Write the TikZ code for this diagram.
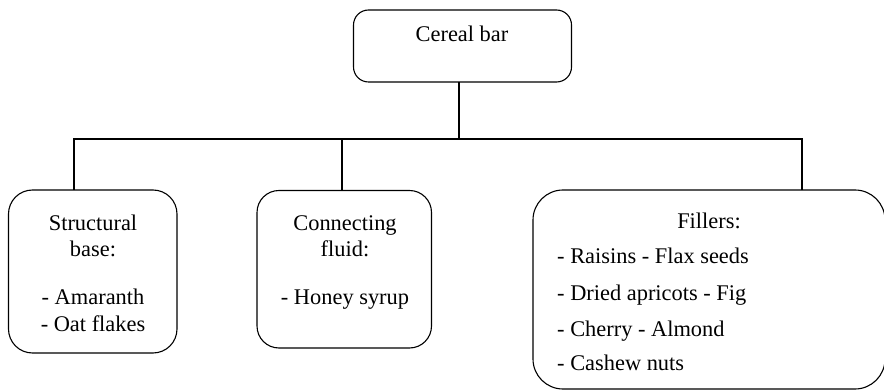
\documentclass[tikz,border=0pt]{standalone}
\usepackage{fontspec}
\setmainfont{Liberation Serif}
\begin{document}
\begin{tikzpicture}[x=1pt,y=-1pt,
  box/.style={draw, line width=1.1pt, rounded corners=#1, inner sep=0pt, outer sep=0pt},
  box/.default=20pt,
  lbl/.style={anchor=base, inner sep=0pt, font=\fontsize{22.4}{26}\selectfont},
  lbll/.style={lbl, anchor=base west},
  conn/.style={line width=1.1pt}]
\useasboundingbox (0,0) rectangle (884,390);
% boxes
\node[box=15pt, minimum width=218pt, minimum height=72pt] (top) at (462.5,46) {};
\node[box=24pt, minimum width=168.5pt, minimum height=163pt] (sb) at (92.75,271.5) {};
\node[box=22pt, minimum width=174.5pt, minimum height=157.5pt] (cf) at (344.25,269.25) {};
\node[box=30pt, minimum width=352pt, minimum height=199pt] (fil) at (709,289.5) {};
% connectors
\coordinate (bus) at (0,139);
\coordinate (dl) at (74,139);
\coordinate (dm) at (342,139);
\coordinate (dr) at (802,139);
\draw[conn] ([xshift=-3.5pt]top.south) -- ([xshift=-3.5pt]top.south |- bus);
\draw[conn] (dl |- sb.north) -- (dl) -- (dr) -- (dr |- fil.north);
\draw[conn] (dm) -- (dm |- cf.north);
% texts
\node[lbl] (t0) at (462,42) {Cereal bar};
\node[lbl] (t1) at (93,231) {Structural};
\node[lbl] (t2) at (93,257) {base:};
\node[lbl] (t3) at (93,305) {- Amaranth};
\node[lbl] (t4) at (93,331) {- Oat flakes};
\node[lbl] (t5) at (345,231) {Connecting};
\node[lbl] (t6) at (345,257) {fluid:};
\node[lbl] (t7) at (345,305) {- Honey syrup};
\node[lbl] (t8) at (709,229) {Fillers:};
\node[lbll] (t9) at (557,264) {- Raisins - Flax seeds};
\node[lbll] (t10) at (557,301) {- Dried apricots - Fig};
\node[lbll] (t11) at (557,336) {- Cherry - Almond};
\node[lbll] (t12) at (557,370) {- Cashew nuts};
\end{tikzpicture}
\end{document}
